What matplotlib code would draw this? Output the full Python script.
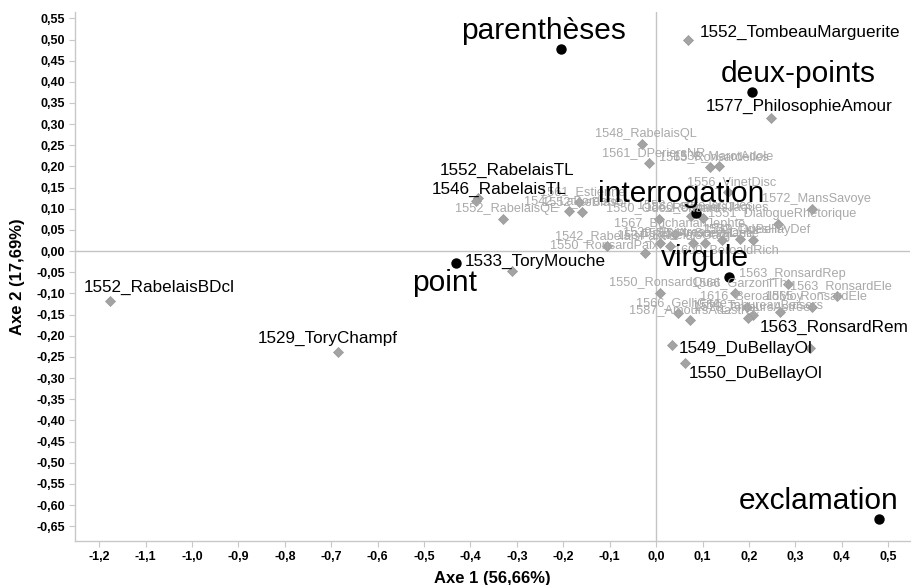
import matplotlib
matplotlib.use("Agg")
import matplotlib.pyplot as plt
from matplotlib.ticker import FixedLocator, FuncFormatter

plt.rcParams['font.family'] = ['Liberation Sans', 'DejaVu Sans']

# ---- Data: punctuation (active columns, black dots) ----
punct_names = ["parenthèses", "deux-points", "interrogation", "point", "virgule", "exclamation"]
punct_x = [-0.205, 0.207, 0.086, -0.431, 0.157, 0.481]
punct_y = [0.478, 0.376, 0.090, -0.027, -0.060, -0.633]

# ---- Data: texts (rows, grey diamonds) ----
text_names = [
    "1552_RabelaisBDcl", "1529_ToryChampf", "1533_ToryMouche", "1552_RabelaisTL",
    "1546_RabelaisTL", "1552_TombeauMarguerite", "1577_PhilosophieAmour",
    "1563_RonsardRem", "1549_DuBellayOl", "1550_DuBellayOl",
    "1552_RabelaisQE", "1548_RabelaisQL", "1561_DPeriersNR", "1565_Ronsardelles",
    "1538_MarotAdole", "1556_VinetDisc", "1572_MansSavoye", "1551_DialogueRhetorique",
    "1561_Estienne", "1542_LaBorderie", "1552_LeBlason", "1550_OdesRonsard",
    "1558_LettreJacques", "1560_SonnetsJaques", "1567_BuchananJephte",
    "1542_RabelaisPant", "1550_RonsardPaix", "1539_Epistres", "1534_RabelaisGarg",
    "1549_DuBellayDef", "1552_OdesHP", "1600_BeroaldRich", "1555_AmoursMarie",
    "1544_SceveDelie", "1550_RonsardQuat", "1563_RonsardRep", "1563_RonsardEle",
    "1566_GarzoniTh", "1616_BeroaldMoy", "1565_RonsardEle", "1554_TahureauBaisers",
    "1578_AmoursAstree", "1566_GelliCirce", "1587_AmoursAdastree", "",
]
text_x = [
    -1.177, -0.685, -0.310, -0.384,
    -0.388, 0.069, 0.248,
    0.267, 0.034, 0.0625,
    -0.330, -0.030, -0.015, 0.116,
    0.136, 0.155, 0.336, 0.263,
    -0.166, -0.1875, -0.159, 0.0065,
    0.075, 0.101, 0.041,
    -0.106, -0.024, 0.009, 0.030,
    0.209, 0.181, 0.142, 0.080,
    0.106, 0.009, 0.284, 0.390,
    0.170, 0.196, 0.336, 0.209,
    0.198, 0.047, 0.073, 0.332,
]
text_y = [
    -0.119, -0.239, -0.046, 0.126,
    0.119, 0.499, 0.315,
    -0.145, -0.223, -0.265,
    0.077, 0.254, 0.209, 0.199,
    0.202, 0.140, 0.100, 0.065,
    0.117, 0.0955, 0.093, 0.077,
    0.084, 0.079, 0.041,
    0.013, -0.0035, 0.020, 0.013,
    0.027, 0.029, 0.027, 0.020,
    0.020, -0.098, -0.077, -0.107,
    -0.100, -0.133, -0.131, -0.152,
    -0.157, -0.147, -0.162, -0.228,
]
# texts whose labels are emphasised (black, larger)
highlight = {"1552_RabelaisBDcl", "1529_ToryChampf", "1533_ToryMouche", "1552_RabelaisTL",
             "1546_RabelaisTL", "1552_TombeauMarguerite", "1577_PhilosophieAmour",
             "1563_RonsardRem", "1549_DuBellayOl", "1550_DuBellayOl"}

# ---- Layout: label placement (pixel offsets, not data) ----
hl_offsets = {
    "1552_RabelaisBDcl": (-26, 10), "1529_ToryChampf": (-80, 9), "1533_ToryMouche": (-47, 5),
    "1552_RabelaisTL": (-38, 23), "1546_RabelaisTL": (-44, 7), "1552_TombeauMarguerite": (12, 3),
    "1577_PhilosophieAmour": (-65, 7), "1563_RonsardRem": (-20, -19),
    "1549_DuBellayOl": (7, -7), "1550_DuBellayOl": (4, -15),
}
grey_special = {"1550_RonsardPaix": (-95, 5, "left"), "1600_BeroaldRich": (4, -13, "center")}
punct_offsets = [(-17, 10), (46, 10), (-15, 11), (-11, -28), (-24, 11), (-61, 10)]

fig = plt.figure(figsize=(9.12, 5.85), dpi=100)
ax = fig.add_axes([75 / 912, 1 - 541 / 585, (910 - 75) / 912, (541 - 12) / 585])

ax.set_xlim(-1.252, 0.547)
ax.set_ylim(-0.685, 0.565)

ax.axhline(0, color="#c4c4c4", lw=1.0, zorder=1)
ax.axvline(0, color="#c4c4c4", lw=1.0, zorder=1)

ax.scatter(text_x, text_y, marker="D", s=26, color="#a3a3a3", edgecolors="#999999",
           linewidths=0.5, zorder=3)
ax.scatter(punct_x, punct_y, marker="o", s=42, color="black", zorder=4)

grey_col = "#a9a9a9"
for name, x, y in zip(text_names, text_x, text_y):
    if not name or name in highlight:
        continue
    dx, dy, ha = grey_special.get(name, (4, 7, "center"))
    ax.annotate(name, (x, y), xytext=(dx, dy), textcoords="offset pixels",
                ha=ha, va="baseline", fontsize=9.2, color=grey_col, zorder=5)

for name, x, y in zip(text_names, text_x, text_y):
    if name in highlight:
        dx, dy = hl_offsets[name]
        ax.annotate(name, (x, y), xytext=(dx, dy), textcoords="offset pixels",
                    ha="left", va="baseline", fontsize=12.3, color="black", zorder=6)

for name, x, y, (dx, dy) in zip(punct_names, punct_x, punct_y, punct_offsets):
    ax.annotate(name, (x, y), xytext=(dx, dy), textcoords="offset pixels",
                ha="center", va="baseline", fontsize=21.5, color="black", zorder=7)

# ---- Axes styling ----
xticks = [round(-1.2 + 0.1 * i, 1) for i in range(18)]
yticks = [round(-0.65 + 0.05 * i, 2) for i in range(25)]
ax.xaxis.set_major_locator(FixedLocator(xticks))
ax.yaxis.set_major_locator(FixedLocator(yticks))
ax.xaxis.set_major_formatter(FuncFormatter(lambda v, p: f"{v:.1f}".replace(".", ",").replace("-0,0", "0,0")))
ax.yaxis.set_major_formatter(FuncFormatter(lambda v, p: f"{v:.2f}".replace(".", ",").replace("-0,00", "0,00")))

for side in ("top", "right"):
    ax.spines[side].set_visible(False)
for side in ("left", "bottom"):
    ax.spines[side].set_color("#c8c8c8")
    ax.spines[side].set_linewidth(1.0)
ax.tick_params(axis="both", direction="out", length=4, width=0.8, color="#c8c8c8",
               labelsize=8, labelcolor="black", pad=3)
for lab in ax.get_xticklabels() + ax.get_yticklabels():
    lab.set_fontweight("bold")
    lab.set_family(['Liberation Sans Narrow', 'Liberation Sans', 'DejaVu Sans'])
    lab.set_fontsize(9)

ax.set_xlabel("Axe 1 (56,66%)", fontsize=12, fontweight="bold", labelpad=6)
ax.set_ylabel("Axe 2 (17,69%)", fontsize=12, fontweight="bold", labelpad=8)

fig.savefig("out.png", dpi=100)
